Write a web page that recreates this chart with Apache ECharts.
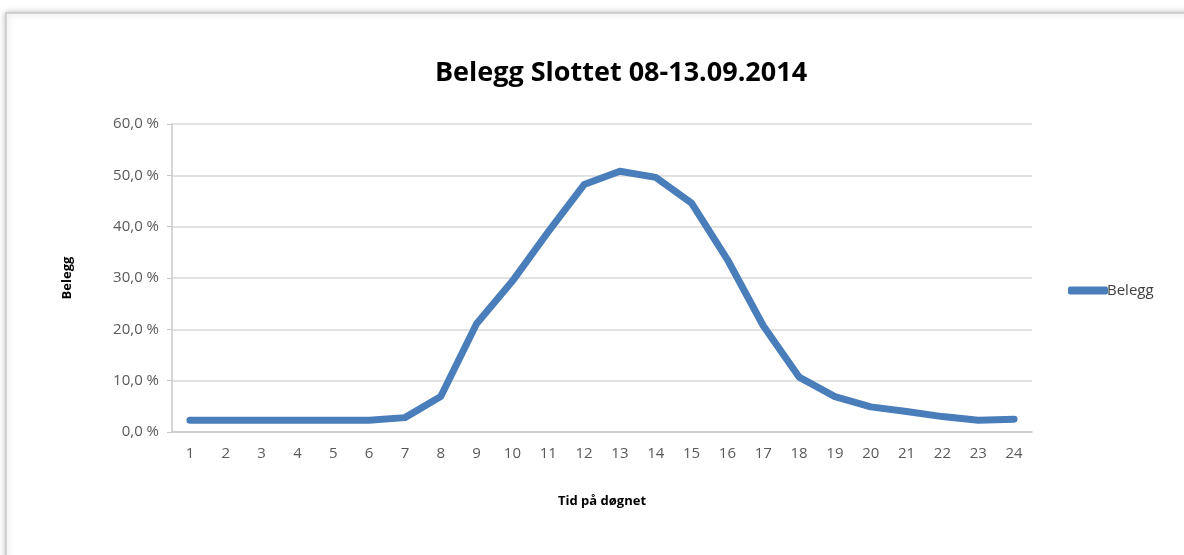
<!DOCTYPE html>
<html>
<head>
<meta charset="utf-8">
<script src="https://cdn.jsdelivr.net/npm/echarts@6/dist/echarts.min.js"></script>
<style>
  html, body { margin: 0; padding: 0; background: #fff; }
  #chart { width: 1184px; height: 555px; }
</style>
</head>
<body>
<div id="chart"></div>
<script>
const hours = ['1', '2', '3', '4', '5', '6', '7', '8', '9', '10', '11', '12',
  '13', '14', '15', '16', '17', '18', '19', '20', '21', '22', '23', '24']
// belegg i prosent
const belegg = [2.3, 2.3, 2.3, 2.3, 2.3, 2.3, 2.8, 6.9, 21.1, 29.4, 39.0, 48.2,
  50.8, 49.6, 44.6, 33.6, 20.7, 10.7, 6.9, 4.9, 4.0, 3.0, 2.3, 2.5]

const chart = echarts.init(document.getElementById('chart'))
const font = 'Open Sans'
chart.setOption({
  animation: false,
  backgroundColor: '#fff',
  graphic: [
    {
      type: 'rect',
      shape: { x: 6, y: 13, width: 1200, height: 560 },
      style: { fill: '#fff', stroke: '#c8c8c8', lineWidth: 1.5, shadowBlur: 6, shadowColor: 'rgba(0,0,0,0.25)' },
      z: -10
    }
  ],
  title: {
    text: 'Belegg Slottet 08-13.09.2014',
    left: 616,
    textAlign: 'center',
    top: 55,
    textStyle: { fontFamily: font, fontSize: 27, fontWeight: 'bold', color: '#000' }
  },
  legend: {
    left: 1063,
    top: 278,
    itemWidth: 40,
    itemHeight: 8,
    itemGap: 0,
    icon: 'roundRect',
    textStyle: { fontFamily: font, fontSize: 15, color: '#404040', padding: [0, 0, 0, -6] },
    data: ['Belegg']
  },
  grid: { left: 172, right: 152, top: 124, bottom: 123 },
  xAxis: {
    type: 'category',
    data: hours,
    boundaryGap: true,
    name: 'Tid på døgnet',
    nameLocation: 'middle',
    nameGap: 63,
    nameTextStyle: { fontFamily: font, fontSize: 13, fontWeight: 'bold', color: '#000' },
    axisLine: { lineStyle: { color: '#c8c8c8', width: 1.5 } },
    axisTick: { lineStyle: { color: '#c8c8c8' }, length: 5 },
    axisLabel: { fontFamily: font, fontSize: 15, color: '#595959', margin: 14 }
  },
  yAxis: {
    type: 'value',
    min: 0,
    max: 60,
    interval: 10,
    name: 'Belegg',
    nameLocation: 'middle',
    nameGap: 98,
    nameRotate: 90,
    nameTextStyle: { fontFamily: font, fontSize: 13, fontWeight: 'bold', color: '#000' },
    axisLine: { show: true, lineStyle: { color: '#c8c8c8', width: 1.5 } },
    axisTick: { show: true, length: 5, lineStyle: { color: '#c8c8c8' } },
    splitLine: { lineStyle: { color: '#d9d9d9', width: 1.5 } },
    axisLabel: {
      fontFamily: font, fontSize: 15, color: '#595959', margin: 13,
      formatter: v => v.toFixed(1).replace('.', ',') + ' %'
    }
  },
  series: [
    {
      name: 'Belegg',
      type: 'line',
      data: belegg,
      showSymbol: false,
      symbol: 'none',
      lineStyle: { color: '#4a7ebb', width: 7, cap: 'round', join: 'round' },
      itemStyle: { color: '#4a7ebb' }
    }
  ]
})
</script>
</body>
</html>
